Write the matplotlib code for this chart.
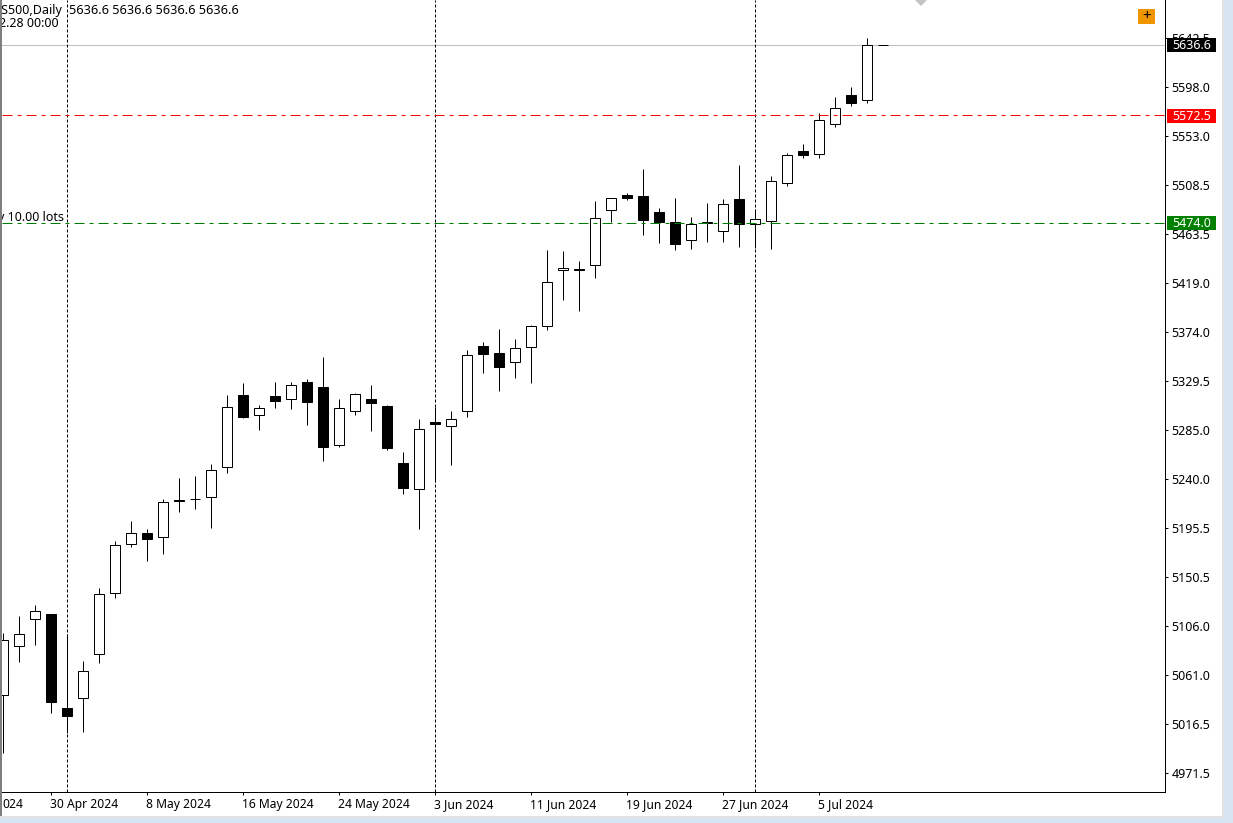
import matplotlib
matplotlib.use("Agg")
import matplotlib.pyplot as plt
from matplotlib.patches import Rectangle
from matplotlib.transforms import ScaledTranslation

opens = [5042.9, 5087.6, 5112.3, 5117.1, 5031.0, 5040.1, 5080.3, 5136.0, 5180.8, 5190.8,
         5187.2, 5221.2, 5221.6, 5223.7, 5251.1, 5317.1, 5298.6, 5316.0, 5312.9, 5328.7,
         5324.5, 5271.2, 5302.3, 5313.2, 5307.1, 5254.8, 5231.0, 5292.5, 5288.6, 5302.3,
         5361.9, 5355.2, 5347.0, 5360.7, 5379.9, 5431.0, 5432.2, 5435.6, 5485.8, 5499.8,
         5498.9, 5484.3, 5475.1, 5458.4, 5475.1, 5466.7, 5496.2, 5473.0, 5475.8, 5510.5,
         5540.0, 5537.0, 5564.4, 5590.9, 5586.3, 5636.6]
highs = [5099.8, 5115.3, 5125.4, 5117.1, 5098.6, 5074.2, 5140.9, 5183.8, 5202.1, 5194.8,
         5222.2, 5241.3, 5243.2, 5254.1, 5317.1, 5328.1, 5308.0, 5329.0, 5328.7, 5331.8,
         5351.9, 5313.5, 5319.0, 5326.3, 5308.0, 5264.8, 5295.2, 5306.2, 5302.5, 5358.2,
         5365.6, 5377.4, 5368.3, 5381.1, 5449.6, 5448.7, 5439.5, 5494.3, 5496.8, 5501.6,
         5523.6, 5487.9, 5497.1, 5479.7, 5492.5, 5496.2, 5527.2, 5487.0, 5517.2, 5538.2,
         5546.4, 5574.7, 5589.3, 5598.4, 5643.2, 5636.6]
lows = [4989.9, 5072.7, 5088.8, 5026.1, 5007.8, 5008.7, 5071.7, 5131.1, 5177.7, 5164.9,
        5171.3, 5209.7, 5212.4, 5195.0, 5245.3, 5295.5, 5284.5, 5304.6, 5303.7, 5289.1,
        5256.2, 5269.0, 5298.2, 5283.6, 5266.3, 5226.1, 5194.1, 5237.0, 5252.6, 5296.4,
        5336.6, 5320.2, 5332.0, 5327.5, 5375.9, 5403.3, 5393.2, 5423.4, 5475.1, 5494.6,
        5462.6, 5455.3, 5448.9, 5449.8, 5456.2, 5456.2, 5451.7, 5450.8, 5449.8, 5507.4,
        5533.6, 5533.6, 5561.3, 5580.5, 5583.2, 5636.6]
closes = [5093.1, 5098.6, 5119.2, 5036.1, 5023.3, 5064.8, 5135.1, 5179.9, 5190.8, 5185.0,
          5219.1, 5219.7, 5222.0, 5248.4, 5305.9, 5296.4, 5305.0, 5311.0, 5326.0, 5310.1,
          5269.0, 5305.0, 5317.8, 5309.2, 5268.1, 5231.6, 5285.8, 5290.0, 5295.0, 5353.4,
          5354.0, 5342.1, 5359.8, 5379.9, 5420.1, 5432.9, 5430.7, 5478.5, 5496.8, 5496.4,
          5476.3, 5474.5, 5454.4, 5473.0, 5474.0, 5491.3, 5472.7, 5477.6, 5512.3, 5536.1,
          5536.3, 5568.0, 5579.0, 5583.2, 5636.5, 5636.6]

price_ticks = [5642.5, 5598.0, 5553.0, 5508.5, 5463.5, 5419.0, 5374.0, 5329.5,
               5285.0, 5240.0, 5195.5, 5150.5, 5106.0, 5061.0, 5016.5, 4971.5]
date_tick_index = [3, 9, 15, 21, 27, 33, 39, 45, 51]
date_labels = ["30 Apr 2024", "8 May 2024", "16 May 2024", "24 May 2024", "3 Jun 2024",
               "11 Jun 2024", "19 Jun 2024", "27 Jun 2024", "5 Jul 2024"]
period_separators = [4, 27, 47]
bid_level = 5636.6
red_level = 5572.5
green_level = 5474.0

W, H = 1233, 823
AX_L, AX_R, AX_B = 2.0, 1165.2, 792.2   # axes box in pixels from top-left
AX_W = AX_R - AX_L
FONT = "Noto Sans"
plt.rcParams["font.family"] = [FONT, "DejaVu Sans"]
LW = 0.72
fig = plt.figure(figsize=(W / 100, H / 100), dpi=100, facecolor="white")

# window chrome
BLUE = "#d6e3f1"
GREY = "#e2e2e2"
def chrome(x0, y0, x1, y1, color):
    fig.add_artist(Rectangle((x0 / W, 1 - y1 / H), (x1 - x0) / W, (y1 - y0) / H,
                             transform=fig.transFigure, fc=color, ec="none", zorder=-5))
chrome(1222, 0, 1224, 817, GREY)
chrome(0, 816, 1224, 818, GREY)
chrome(1224, 0, W, H, BLUE)
chrome(0, 818, W, H, BLUE)
chrome(0, 0, 2, 816, "#7f7f7f")

ax = fig.add_axes([AX_L / W, (H - AX_B) / H, AX_W / W, AX_B / H], facecolor="white")
ax.patch.set_alpha(0)
ax.set_xlim(-0.075, 72.625)
ax.set_ylim(4954.1, 5677.6)
for s in ("left", "top"):
    ax.spines[s].set_visible(False)
for s in ("right", "bottom"):
    ax.spines[s].set_linewidth(LW)
    ax.spines[s].set_color("black")

ax.yaxis.tick_right()
ax.set_yticks(price_ticks, [f"{v:.1f}" for v in price_ticks])
ax.set_xticks(date_tick_index, date_labels, ha="left")
ax.tick_params(axis="y", length=2.2, width=LW, pad=2.2, labelsize=9, colors="black")
ax.tick_params(axis="x", length=2.2, width=LW, pad=1.8, labelsize=8.7, colors="black")
nudge = ScaledTranslation(-1 / 100, 0, fig.dpi_scale_trans)
for lab in ax.get_xticklabels():
    lab.set_transform(lab.get_transform() + nudge)

def axpx(x, y):
    return (x - AX_L) / AX_W, (AX_B - y) / AX_B

# candles
xs = list(range(len(opens)))
BODY = 10 / 16
ax.vlines(xs, lows, highs, color="black", lw=LW, zorder=3)
for x, o, c in zip(xs, opens, closes):
    rising = c >= o
    ax.add_patch(Rectangle((x - BODY / 2, min(o, c)), BODY, abs(c - o),
                           fc="white" if rising else "black", ec="black", lw=LW, zorder=4))

# level and separator lines
ax.axhline(bid_level, color="#c0c0c0", lw=LW, zorder=2)
ax.axhline(red_level, color="#ff0000", lw=LW, ls=(0, (10, 5, 4, 5)), zorder=5)
ax.axhline(green_level, color="#008000", lw=LW, ls=(0, (10, 5, 4, 5)), zorder=5)
for v in period_separators:
    ax.axvline(v, color="black", lw=LW, ls=(0, (3, 2)), zorder=2)

# price tags on the axis
def tag(price, color):
    tr = ax.get_yaxis_transform()
    ax.add_patch(Rectangle(((1167 - AX_L) / AX_W, price - 6.9), 49 / AX_W, 12.8,
                           transform=tr, fc=color, ec="none", clip_on=False, zorder=10))
    ax.text((1172 - AX_L) / AX_W, price - 0.9, f"{price:.1f}", transform=tr,
            color="white", fontsize=9, va="center", ha="left", clip_on=False, zorder=11)
tag(bid_level, "black")
tag(red_level, "#ff0000")
tag(green_level, "#008000")

# texts at top-left
def label(x, y, s, ha="left", size=9):
    fx, fy = axpx(x, y)
    ax.text(fx, fy, s, transform=ax.transAxes, fontsize=size, ha=ha, va="baseline",
            clip_on=True, zorder=7, color="black")
label(63, 14.3, "US500,Daily", "right")
label(69, 14.3, "5636.6 5636.6 5636.6 5636.6", size=9.1)
label(59, 27.3, "2.28 00:00", "right")
label(64, 221, "y 10.00 lots", "right")
fx, fy = axpx(2, 807.5)
ax.text(fx, fy, "024", transform=ax.transAxes, fontsize=8.7, ha="left", va="baseline",
        clip_on=False, color="black")

# grey diamond marker and orange button
ax.plot([(921 - 3.5) / 16], [5677.6], marker="D", ms=6.1, color="#c4c4c4", mew=0, zorder=6)
bx, by = axpx(1138, 24)
ax.add_patch(Rectangle((bx, by), 17 / AX_W, 15 / AX_B, transform=ax.transAxes,
                       fc="#ee9500", ec="none", zorder=6))
cx, cy = axpx(1146.5, 16)
ax.text(cx, cy, "+", transform=ax.transAxes, fontsize=11, ha="center", va="center",
        color="black", zorder=7)

fig.savefig("out.png", dpi=100, facecolor="white")
